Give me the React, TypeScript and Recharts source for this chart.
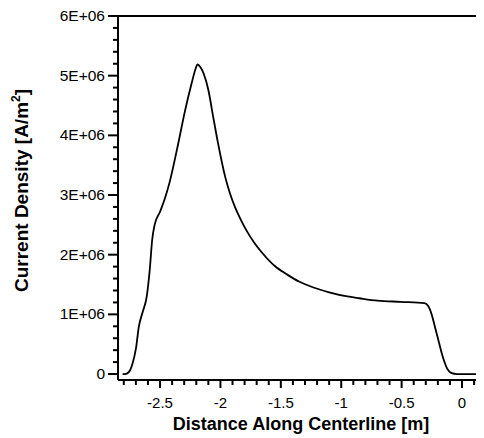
import { LineChart, Line, XAxis, YAxis, ReferenceLine } from "recharts";

// distance along centerline [m]
const distance = [
  -2.81, -2.79, -2.76, -2.73, -2.7, -2.675, -2.645, -2.61, -2.585, -2.565, -2.545, -2.5,
  -2.46, -2.42, -2.36, -2.29, -2.24, -2.205, -2.19, -2.165, -2.14, -2.1, -2.06, -2.02,
  -1.96, -1.92, -1.88, -1.83, -1.78, -1.72, -1.65, -1.55, -1.45, -1.35, -1.23, -1.1,
  -0.95, -0.85, -0.7, -0.51, -0.31, -0.28, -0.265, -0.21, -0.155, -0.12, -0.09, -0.04,
  0, 0.18,
];

// current density [A/m^2]
const density = [
  0, 0, 30000, 160000, 420000, 800000, 1030000, 1300000, 1750000, 2250000, 2500000, 2720000,
  2940000, 3220000, 3760000, 4440000, 4860000, 5120000, 5190000, 5140000, 5040000, 4760000, 4310000, 3870000,
  3300000, 3020000, 2800000, 2580000, 2390000, 2200000, 2020000, 1810000, 1670000, 1550000, 1450000, 1370000,
  1300000, 1270000, 1230000, 1210000, 1190000, 1140000, 1080000, 680000, 260000, 80000, 20000, 0,
  0, 0,
];

const xTicks = [
  -2.8, -2.7, -2.6, -2.5, -2.4, -2.3, -2.2, -2.1, -2, -1.9, -1.8, -1.7, -1.6, -1.5, -1.4,
  -1.3, -1.2, -1.1, -1, -0.9, -0.8, -0.7, -0.6, -0.5, -0.4, -0.3, -0.2, -0.1, 0, 0.1,
];

const yTicks = [
  0, 200000, 400000, 600000, 800000, 1000000, 1200000, 1400000, 1600000, 1800000, 2000000,
  2200000, 2400000, 2600000, 2800000, 3000000, 3200000, 3400000, 3600000, 3800000, 4000000,
  4200000, 4400000, 4600000, 4800000, 5000000, 5200000, 5400000, 5600000, 5800000, 6000000,
];

const data = distance.map((x, i) => ({ x, j: density[i] }));

const FONT = "'Liberation Sans', Arial, sans-serif";

const isMult = (v: number, step: number) => Math.abs(v / step - Math.round(v / step)) < 1e-6;

function XTick(props: any) {
  const { x, y, payload } = props;
  const major = isMult(payload.value, 0.5);
  return (
    <g>
      <line x1={x} x2={x} y1={y} y2={y + (major ? 8 : 5)} stroke="#000" strokeWidth={2} />
      {major && (
        <text x={x} y={y + 28} textAnchor="middle" fontFamily={FONT} fontSize={15} fill="#000">
          {payload.value}
        </text>
      )}
    </g>
  );
}

function YTick(props: any) {
  const { x, y, payload } = props;
  const major = isMult(payload.value, 1000000);
  const label = payload.value === 0 ? "0" : `${Math.round(payload.value / 1000000)}E+06`;
  return (
    <g>
      <line x1={x - (major ? 10 : 5)} x2={x} y1={y} y2={y} stroke="#000" strokeWidth={2} />
      {major && (
        <text x={x - 13} y={y + 5} textAnchor="end" fontFamily={FONT} fontSize={15.5} fill="#000">
          {label}
        </text>
      )}
    </g>
  );
}

export default function App() {
  return (
    <div style={{ width: 476, height: 430 }}>
      <LineChart width={476} height={430} data={data} margin={{ top: 8, right: 0, bottom: 0, left: 0 }}>
        <XAxis
          type="number"
          dataKey="x"
          domain={[-2.848, 0.182]}
          allowDataOverflow
          ticks={xTicks}
          interval={0}
          tickSize={0}
          tickMargin={0}
          tickLine={false}
          tick={XTick}
          height={58}
          axisLine={{ stroke: "#000", strokeWidth: 2 }}
          label={(p: any) => {
            const vb = p.viewBox;
            return (
              <text x={vb.x + vb.width / 2} y={422} textAnchor="middle" fontFamily={FONT} fontWeight="bold" fontSize={18} fill="#000">
                Distance Along Centerline [m]
              </text>
            );
          }}
        />
        <YAxis
          type="number"
          domain={[-100000, 6000000]}
          allowDataOverflow
          ticks={yTicks}
          interval={0}
          tickSize={0}
          tickMargin={0}
          tickLine={false}
          tick={YTick}
          width={110}
          axisLine={{ stroke: "#000", strokeWidth: 2 }}
          label={() => (
            <text x={20} y={284} transform="rotate(-90, 20, 284)" textAnchor="start" fontFamily={FONT} fontWeight="bold" fontSize={19} fill="#000">
              Current Density [A/m<tspan dy={-8} fontSize={12}>2</tspan><tspan dy={8}>]</tspan>
            </text>
          )}
        />
        <ReferenceLine y={6000000} stroke="#000" strokeWidth={2} />
        <Line type="monotone" dataKey="j" stroke="#000" strokeWidth={1.8} dot={false} isAnimationActive={false} />
      </LineChart>
    </div>
  );
}
